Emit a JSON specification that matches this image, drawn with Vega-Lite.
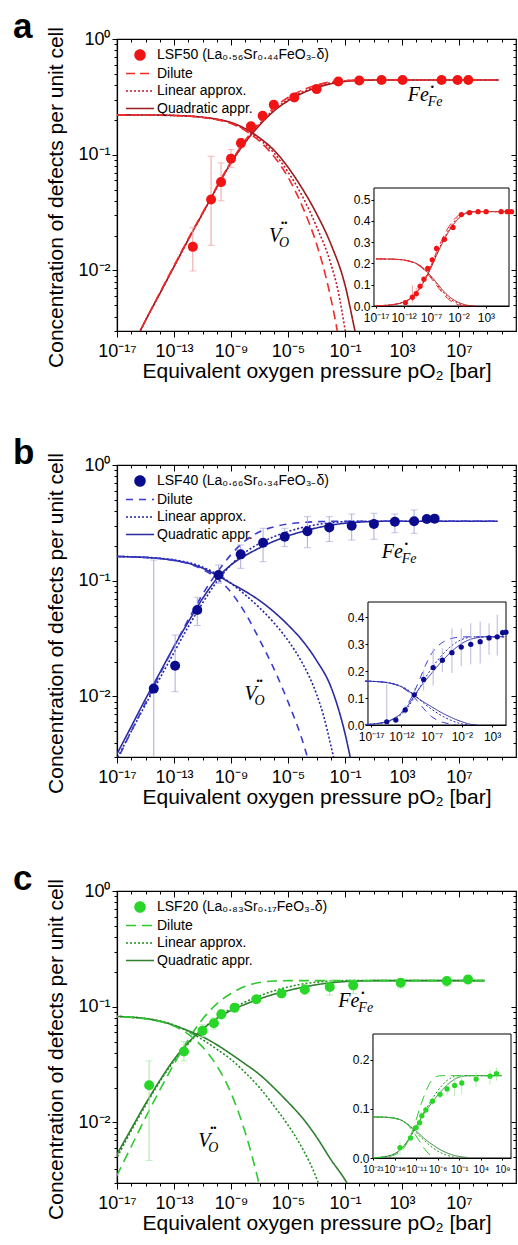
{
"$schema":"https://vega.github.io/schema/vega-lite/v6.json",
"padding":{"left":12,"top":8,"right":0,"bottom":0},
"config":{"font":"Liberation Sans","view":{"stroke":"black","strokeWidth":1.2},"axis":{"domainColor":"black","tickColor":"black","labelColor":"black","titleColor":"black","domainWidth":1.2,"tickWidth":1,"labelFont":"Liberation Sans","titleFont":"Liberation Sans"},"title":{"color":"black"}},
"datasets":{
"ca":[
{"p":1e-17,"c":0.0012,"sp":"Fe","m":"Q"},{"p":1e-16,"c":0.0021,"sp":"Fe","m":"Q"},{"p":1e-15,"c":0.0037,"sp":"Fe","m":"Q"},{"p":1e-14,"c":0.0063,"sp":"Fe","m":"Q"},{"p":1e-13,"c":0.0108,"sp":"Fe","m":"Q"},{"p":1e-12,"c":0.0185,"sp":"Fe","m":"Q"},{"p":1e-11,"c":0.031,"sp":"Fe","m":"Q"},{"p":1e-10,"c":0.052,"sp":"Fe","m":"Q"},{"p":1e-9,"c":0.085,"sp":"Fe","m":"Q"},{"p":1e-8,"c":0.128,"sp":"Fe","m":"Q"},{"p":1e-7,"c":0.18,"sp":"Fe","m":"Q"},{"p":1e-6,"c":0.238,"sp":"Fe","m":"Q"},{"p":1e-5,"c":0.292,"sp":"Fe","m":"Q"},{"p":1e-4,"c":0.34,"sp":"Fe","m":"Q"},{"p":1e-3,"c":0.38,"sp":"Fe","m":"Q"},{"p":1e-2,"c":0.41,"sp":"Fe","m":"Q"},{"p":1e-1,"c":0.43,"sp":"Fe","m":"Q"},{"p":1,"c":0.438,"sp":"Fe","m":"Q"},{"p":10,"c":0.442,"sp":"Fe","m":"Q"},{"p":100,"c":0.443,"sp":"Fe","m":"Q"},{"p":1e4,"c":0.443,"sp":"Fe","m":"Q"},{"p":1e6,"c":0.443,"sp":"Fe","m":"Q"},{"p":1e7,"c":0.443,"sp":"Fe","m":"Q"},{"p":1e8,"c":0.443,"sp":"Fe","m":"Q"},{"p":6.3e9,"c":0.443,"sp":"Fe","m":"Q"},
{"p":1e-17,"c":0.0012,"sp":"Fe","m":"L"},{"p":1e-16,"c":0.0021,"sp":"Fe","m":"L"},{"p":1e-15,"c":0.0037,"sp":"Fe","m":"L"},{"p":1e-14,"c":0.0063,"sp":"Fe","m":"L"},{"p":1e-13,"c":0.0108,"sp":"Fe","m":"L"},{"p":1e-12,"c":0.0184,"sp":"Fe","m":"L"},{"p":1e-11,"c":0.031,"sp":"Fe","m":"L"},{"p":1e-10,"c":0.052,"sp":"Fe","m":"L"},{"p":1e-9,"c":0.086,"sp":"Fe","m":"L"},{"p":1e-8,"c":0.13,"sp":"Fe","m":"L"},{"p":1e-7,"c":0.184,"sp":"Fe","m":"L"},{"p":1e-6,"c":0.244,"sp":"Fe","m":"L"},{"p":1e-5,"c":0.298,"sp":"Fe","m":"L"},{"p":1e-4,"c":0.348,"sp":"Fe","m":"L"},{"p":1e-3,"c":0.388,"sp":"Fe","m":"L"},{"p":1e-2,"c":0.418,"sp":"Fe","m":"L"},{"p":1e-1,"c":0.434,"sp":"Fe","m":"L"},{"p":1,"c":0.441,"sp":"Fe","m":"L"},{"p":10,"c":0.443,"sp":"Fe","m":"L"},{"p":100,"c":0.443,"sp":"Fe","m":"L"},{"p":1e4,"c":0.443,"sp":"Fe","m":"L"},{"p":1e6,"c":0.443,"sp":"Fe","m":"L"},{"p":1e7,"c":0.443,"sp":"Fe","m":"L"},{"p":1e8,"c":0.443,"sp":"Fe","m":"L"},{"p":6.3e9,"c":0.443,"sp":"Fe","m":"L"},
{"p":1e-17,"c":0.0012,"sp":"Fe","m":"D"},{"p":1e-16,"c":0.0021,"sp":"Fe","m":"D"},{"p":1e-15,"c":0.0037,"sp":"Fe","m":"D"},{"p":1e-14,"c":0.0064,"sp":"Fe","m":"D"},{"p":1e-13,"c":0.011,"sp":"Fe","m":"D"},{"p":1e-12,"c":0.0188,"sp":"Fe","m":"D"},{"p":1e-11,"c":0.0315,"sp":"Fe","m":"D"},{"p":1e-10,"c":0.053,"sp":"Fe","m":"D"},{"p":1e-9,"c":0.087,"sp":"Fe","m":"D"},{"p":1e-8,"c":0.133,"sp":"Fe","m":"D"},{"p":1e-7,"c":0.19,"sp":"Fe","m":"D"},{"p":1e-6,"c":0.254,"sp":"Fe","m":"D"},{"p":1e-5,"c":0.312,"sp":"Fe","m":"D"},{"p":1e-4,"c":0.362,"sp":"Fe","m":"D"},{"p":1e-3,"c":0.4,"sp":"Fe","m":"D"},{"p":1e-2,"c":0.426,"sp":"Fe","m":"D"},{"p":1e-1,"c":0.438,"sp":"Fe","m":"D"},{"p":1,"c":0.442,"sp":"Fe","m":"D"},{"p":10,"c":0.443,"sp":"Fe","m":"D"},{"p":100,"c":0.443,"sp":"Fe","m":"D"},{"p":1e4,"c":0.443,"sp":"Fe","m":"D"},{"p":1e6,"c":0.443,"sp":"Fe","m":"D"},{"p":1e7,"c":0.443,"sp":"Fe","m":"D"},{"p":1e8,"c":0.443,"sp":"Fe","m":"D"},{"p":6.3e9,"c":0.443,"sp":"Fe","m":"D"},
{"p":1e-17,"c":0.221,"sp":"VO","m":"Q"},{"p":1e-16,"c":0.2208,"sp":"VO","m":"Q"},{"p":1e-15,"c":0.2205,"sp":"VO","m":"Q"},{"p":1e-14,"c":0.22,"sp":"VO","m":"Q"},{"p":1e-13,"c":0.2185,"sp":"VO","m":"Q"},{"p":1e-12,"c":0.216,"sp":"VO","m":"Q"},{"p":1e-11,"c":0.211,"sp":"VO","m":"Q"},{"p":1e-10,"c":0.203,"sp":"VO","m":"Q"},{"p":1e-9,"c":0.19,"sp":"VO","m":"Q"},{"p":1e-8,"c":0.168,"sp":"VO","m":"Q"},{"p":1e-7,"c":0.14,"sp":"VO","m":"Q"},{"p":1e-6,"c":0.11,"sp":"VO","m":"Q"},{"p":1e-5,"c":0.078,"sp":"VO","m":"Q"},{"p":1e-4,"c":0.051,"sp":"VO","m":"Q"},{"p":1e-3,"c":0.031,"sp":"VO","m":"Q"},{"p":1e-2,"c":0.017,"sp":"VO","m":"Q"},{"p":1e-1,"c":0.0075,"sp":"VO","m":"Q"},{"p":0.5,"c":0.003,"sp":"VO","m":"Q"},{"p":1.58,"c":0.0015,"sp":"VO","m":"Q"},{"p":10,"c":0.0005,"sp":"VO","m":"Q"},
{"p":1e-17,"c":0.221,"sp":"VO","m":"L"},{"p":1e-16,"c":0.2208,"sp":"VO","m":"L"},{"p":1e-15,"c":0.2205,"sp":"VO","m":"L"},{"p":1e-14,"c":0.22,"sp":"VO","m":"L"},{"p":1e-13,"c":0.2185,"sp":"VO","m":"L"},{"p":1e-12,"c":0.216,"sp":"VO","m":"L"},{"p":1e-11,"c":0.2105,"sp":"VO","m":"L"},{"p":1e-10,"c":0.202,"sp":"VO","m":"L"},{"p":1e-9,"c":0.188,"sp":"VO","m":"L"},{"p":1e-8,"c":0.165,"sp":"VO","m":"L"},{"p":1e-7,"c":0.136,"sp":"VO","m":"L"},{"p":1e-6,"c":0.104,"sp":"VO","m":"L"},{"p":1e-5,"c":0.071,"sp":"VO","m":"L"},{"p":1e-4,"c":0.044,"sp":"VO","m":"L"},{"p":1e-3,"c":0.024,"sp":"VO","m":"L"},{"p":1e-2,"c":0.0115,"sp":"VO","m":"L"},{"p":0.0316,"c":0.0068,"sp":"VO","m":"L"},{"p":0.1,"c":0.0031,"sp":"VO","m":"L"},{"p":0.251,"c":0.0015,"sp":"VO","m":"L"},{"p":1,"c":0.0005,"sp":"VO","m":"L"},
{"p":1e-17,"c":0.221,"sp":"VO","m":"D"},{"p":1e-16,"c":0.2208,"sp":"VO","m":"D"},{"p":1e-15,"c":0.2205,"sp":"VO","m":"D"},{"p":1e-14,"c":0.2198,"sp":"VO","m":"D"},{"p":1e-13,"c":0.218,"sp":"VO","m":"D"},{"p":1e-12,"c":0.2155,"sp":"VO","m":"D"},{"p":1e-11,"c":0.21,"sp":"VO","m":"D"},{"p":1e-10,"c":0.201,"sp":"VO","m":"D"},{"p":1e-9,"c":0.186,"sp":"VO","m":"D"},{"p":1e-8,"c":0.162,"sp":"VO","m":"D"},{"p":1e-7,"c":0.131,"sp":"VO","m":"D"},{"p":1e-6,"c":0.097,"sp":"VO","m":"D"},{"p":1e-5,"c":0.064,"sp":"VO","m":"D"},{"p":1e-4,"c":0.036,"sp":"VO","m":"D"},{"p":1e-3,"c":0.017,"sp":"VO","m":"D"},{"p":0.00316,"c":0.0105,"sp":"VO","m":"D"},{"p":1e-2,"c":0.0058,"sp":"VO","m":"D"},{"p":0.0316,"c":0.0028,"sp":"VO","m":"D"},{"p":0.063,"c":0.0016,"sp":"VO","m":"D"},{"p":0.158,"c":0.0007,"sp":"VO","m":"D"}
],
"pa":[
{"p":2.1e-12,"c":0.016,"lo":0.0099,"hi":0.0234,"m":"P"},{"p":4e-11,"c":0.041,"lo":0.0165,"hi":0.097,"m":"P"},{"p":2e-10,"c":0.058,"lo":0.04,"hi":0.085,"m":"P"},{"p":1e-9,"c":0.0925,"lo":0.078,"hi":0.111,"m":"P"},{"p":5e-9,"c":0.126,"lo":0.115,"hi":0.138,"m":"P"},{"p":2.5e-8,"c":0.176,"lo":0.165,"hi":0.188,"m":"P"},{"p":1.66e-7,"c":0.217,"lo":0.205,"hi":0.23,"m":"P"},{"p":1e-6,"c":0.27,"lo":0.255,"hi":0.285,"m":"P"},{"p":2.75e-5,"c":0.313,"lo":0.3,"hi":0.326,"m":"P"},{"p":1.02e-3,"c":0.369,"lo":0.355,"hi":0.383,"m":"P"},{"p":0.034,"c":0.429,"lo":0.418,"hi":0.44,"m":"P"},{"p":1,"c":0.438,"lo":0.43,"hi":0.446,"m":"P"},{"p":37,"c":0.443,"lo":0.435,"hi":0.451,"m":"P"},{"p":1100,"c":0.443,"lo":0.435,"hi":0.451,"m":"P"},{"p":6e5,"c":0.443,"lo":0.435,"hi":0.451,"m":"P"},{"p":7.9e6,"c":0.443,"lo":0.435,"hi":0.451,"m":"P"},{"p":4.5e7,"c":0.443,"lo":0.435,"hi":0.451,"m":"P"}
],
"cb":[
{"p":1e-18,"c":0.0019,"sp":"Fe","m":"Q"},{"p":1e-17,"c":0.0032,"sp":"Fe","m":"Q"},{"p":1e-16,"c":0.0055,"sp":"Fe","m":"Q"},{"p":1e-15,"c":0.0095,"sp":"Fe","m":"Q"},{"p":1e-14,"c":0.016,"sp":"Fe","m":"Q"},{"p":1e-13,"c":0.027,"sp":"Fe","m":"Q"},{"p":1e-12,"c":0.044,"sp":"Fe","m":"Q"},{"p":1e-11,"c":0.07,"sp":"Fe","m":"Q"},{"p":1e-10,"c":0.104,"sp":"Fe","m":"Q"},{"p":1e-9,"c":0.137,"sp":"Fe","m":"Q"},{"p":1e-8,"c":0.165,"sp":"Fe","m":"Q"},{"p":1e-7,"c":0.192,"sp":"Fe","m":"Q"},{"p":1e-6,"c":0.219,"sp":"Fe","m":"Q"},{"p":1e-5,"c":0.244,"sp":"Fe","m":"Q"},{"p":1e-4,"c":0.266,"sp":"Fe","m":"Q"},{"p":1e-3,"c":0.286,"sp":"Fe","m":"Q"},{"p":1e-2,"c":0.302,"sp":"Fe","m":"Q"},{"p":1e-1,"c":0.314,"sp":"Fe","m":"Q"},{"p":1,"c":0.321,"sp":"Fe","m":"Q"},{"p":10,"c":0.325,"sp":"Fe","m":"Q"},{"p":100,"c":0.327,"sp":"Fe","m":"Q"},{"p":1e3,"c":0.327,"sp":"Fe","m":"Q"},{"p":1e4,"c":0.327,"sp":"Fe","m":"Q"},{"p":1e5,"c":0.327,"sp":"Fe","m":"Q"},{"p":1e7,"c":0.327,"sp":"Fe","m":"Q"},{"p":5e9,"c":0.327,"sp":"Fe","m":"Q"},
{"p":1e-18,"c":0.0017,"sp":"Fe","m":"L"},{"p":1e-17,"c":0.0029,"sp":"Fe","m":"L"},{"p":1e-16,"c":0.005,"sp":"Fe","m":"L"},{"p":1e-15,"c":0.0085,"sp":"Fe","m":"L"},{"p":1e-14,"c":0.0143,"sp":"Fe","m":"L"},{"p":1e-13,"c":0.024,"sp":"Fe","m":"L"},{"p":1e-12,"c":0.04,"sp":"Fe","m":"L"},{"p":1e-11,"c":0.064,"sp":"Fe","m":"L"},{"p":1e-10,"c":0.098,"sp":"Fe","m":"L"},{"p":1e-9,"c":0.137,"sp":"Fe","m":"L"},{"p":1e-8,"c":0.176,"sp":"Fe","m":"L"},{"p":1e-7,"c":0.21,"sp":"Fe","m":"L"},{"p":1e-6,"c":0.24,"sp":"Fe","m":"L"},{"p":1e-5,"c":0.266,"sp":"Fe","m":"L"},{"p":1e-4,"c":0.288,"sp":"Fe","m":"L"},{"p":1e-3,"c":0.305,"sp":"Fe","m":"L"},{"p":1e-2,"c":0.317,"sp":"Fe","m":"L"},{"p":1e-1,"c":0.324,"sp":"Fe","m":"L"},{"p":1,"c":0.327,"sp":"Fe","m":"L"},{"p":10,"c":0.327,"sp":"Fe","m":"L"},{"p":100,"c":0.327,"sp":"Fe","m":"L"},{"p":1e3,"c":0.327,"sp":"Fe","m":"L"},{"p":1e4,"c":0.327,"sp":"Fe","m":"L"},{"p":1e5,"c":0.327,"sp":"Fe","m":"L"},{"p":1e7,"c":0.327,"sp":"Fe","m":"L"},{"p":5e9,"c":0.327,"sp":"Fe","m":"L"},
{"p":1e-18,"c":0.0016,"sp":"Fe","m":"D"},{"p":1e-17,"c":0.0028,"sp":"Fe","m":"D"},{"p":1e-16,"c":0.005,"sp":"Fe","m":"D"},{"p":1e-15,"c":0.0088,"sp":"Fe","m":"D"},{"p":1e-14,"c":0.0155,"sp":"Fe","m":"D"},{"p":1e-13,"c":0.027,"sp":"Fe","m":"D"},{"p":1e-12,"c":0.046,"sp":"Fe","m":"D"},{"p":1e-11,"c":0.076,"sp":"Fe","m":"D"},{"p":1e-10,"c":0.117,"sp":"Fe","m":"D"},{"p":1e-9,"c":0.168,"sp":"Fe","m":"D"},{"p":1e-8,"c":0.222,"sp":"Fe","m":"D"},{"p":1e-7,"c":0.265,"sp":"Fe","m":"D"},{"p":1e-6,"c":0.292,"sp":"Fe","m":"D"},{"p":1e-5,"c":0.309,"sp":"Fe","m":"D"},{"p":1e-4,"c":0.319,"sp":"Fe","m":"D"},{"p":1e-3,"c":0.324,"sp":"Fe","m":"D"},{"p":1e-2,"c":0.326,"sp":"Fe","m":"D"},{"p":1e-1,"c":0.327,"sp":"Fe","m":"D"},{"p":1,"c":0.327,"sp":"Fe","m":"D"},{"p":100,"c":0.327,"sp":"Fe","m":"D"},{"p":1e4,"c":0.327,"sp":"Fe","m":"D"},{"p":1e5,"c":0.327,"sp":"Fe","m":"D"},{"p":1e7,"c":0.327,"sp":"Fe","m":"D"},{"p":5e9,"c":0.327,"sp":"Fe","m":"D"},
{"p":1e-18,"c":0.1626,"sp":"VO","m":"Q"},{"p":1e-17,"c":0.1619,"sp":"VO","m":"Q"},{"p":1e-16,"c":0.1608,"sp":"VO","m":"Q"},{"p":1e-15,"c":0.1588,"sp":"VO","m":"Q"},{"p":1e-14,"c":0.1555,"sp":"VO","m":"Q"},{"p":1e-13,"c":0.15,"sp":"VO","m":"Q"},{"p":1e-12,"c":0.1415,"sp":"VO","m":"Q"},{"p":1e-11,"c":0.1285,"sp":"VO","m":"Q"},{"p":1e-10,"c":0.1115,"sp":"VO","m":"Q"},{"p":1e-9,"c":0.095,"sp":"VO","m":"Q"},{"p":1e-8,"c":0.081,"sp":"VO","m":"Q"},{"p":1e-7,"c":0.0675,"sp":"VO","m":"Q"},{"p":1e-6,"c":0.054,"sp":"VO","m":"Q"},{"p":1e-5,"c":0.0415,"sp":"VO","m":"Q"},{"p":1e-4,"c":0.0305,"sp":"VO","m":"Q"},{"p":1e-3,"c":0.0205,"sp":"VO","m":"Q"},{"p":1e-2,"c":0.0122,"sp":"VO","m":"Q"},{"p":1e-1,"c":0.0048,"sp":"VO","m":"Q"},{"p":0.316,"c":0.0025,"sp":"VO","m":"Q"},{"p":1,"c":0.0013,"sp":"VO","m":"Q"},{"p":3.16,"c":0.0007,"sp":"VO","m":"Q"},
{"p":1e-18,"c":0.1627,"sp":"VO","m":"L"},{"p":1e-17,"c":0.162,"sp":"VO","m":"L"},{"p":1e-16,"c":0.1611,"sp":"VO","m":"L"},{"p":1e-15,"c":0.1593,"sp":"VO","m":"L"},{"p":1e-14,"c":0.1564,"sp":"VO","m":"L"},{"p":1e-13,"c":0.1515,"sp":"VO","m":"L"},{"p":1e-12,"c":0.1435,"sp":"VO","m":"L"},{"p":1e-11,"c":0.1315,"sp":"VO","m":"L"},{"p":1e-10,"c":0.1145,"sp":"VO","m":"L"},{"p":1e-9,"c":0.095,"sp":"VO","m":"L"},{"p":1e-8,"c":0.0755,"sp":"VO","m":"L"},{"p":1e-7,"c":0.0585,"sp":"VO","m":"L"},{"p":1e-6,"c":0.0435,"sp":"VO","m":"L"},{"p":1e-5,"c":0.0305,"sp":"VO","m":"L"},{"p":1e-4,"c":0.0195,"sp":"VO","m":"L"},{"p":1e-3,"c":0.0105,"sp":"VO","m":"L"},{"p":0.00316,"c":0.0068,"sp":"VO","m":"L"},{"p":1e-2,"c":0.0038,"sp":"VO","m":"L"},{"p":0.0316,"c":0.002,"sp":"VO","m":"L"},{"p":0.1,"c":0.0009,"sp":"VO","m":"L"},
{"p":1e-18,"c":0.1627,"sp":"VO","m":"D"},{"p":1e-17,"c":0.1621,"sp":"VO","m":"D"},{"p":1e-16,"c":0.161,"sp":"VO","m":"D"},{"p":1e-15,"c":0.1591,"sp":"VO","m":"D"},{"p":1e-14,"c":0.1558,"sp":"VO","m":"D"},{"p":1e-13,"c":0.15,"sp":"VO","m":"D"},{"p":1e-12,"c":0.1405,"sp":"VO","m":"D"},{"p":1e-11,"c":0.1255,"sp":"VO","m":"D"},{"p":1e-10,"c":0.105,"sp":"VO","m":"D"},{"p":1e-9,"c":0.0795,"sp":"VO","m":"D"},{"p":1e-8,"c":0.0525,"sp":"VO","m":"D"},{"p":1e-7,"c":0.031,"sp":"VO","m":"D"},{"p":1e-6,"c":0.0175,"sp":"VO","m":"D"},{"p":1e-5,"c":0.009,"sp":"VO","m":"D"},{"p":1e-4,"c":0.0042,"sp":"VO","m":"D"},{"p":3.16e-4,"c":0.0026,"sp":"VO","m":"D"},{"p":1e-3,"c":0.0015,"sp":"VO","m":"D"}
],
"pb":[
{"p":3.8e-15,"c":0.0117,"lo":0.0001,"hi":0.151,"m":"P"},{"p":1.2e-13,"c":0.0184,"lo":0.011,"hi":0.034,"m":"P"},{"p":4.3e-12,"c":0.0558,"lo":0.041,"hi":0.072,"m":"P"},{"p":1.35e-10,"c":0.112,"lo":0.095,"hi":0.137,"m":"P"},{"p":4.8e-9,"c":0.169,"lo":0.128,"hi":0.204,"m":"P"},{"p":1.78e-7,"c":0.213,"lo":0.146,"hi":0.284,"m":"P"},{"p":5.9e-6,"c":0.24,"lo":0.197,"hi":0.284,"m":"P"},{"p":2.3e-4,"c":0.268,"lo":0.193,"hi":0.358,"m":"P"},{"p":7.9e-3,"c":0.289,"lo":0.218,"hi":0.358,"m":"P"},{"p":0.295,"c":0.299,"lo":0.225,"hi":0.377,"m":"P"},{"p":10.7,"c":0.309,"lo":0.228,"hi":0.383,"m":"P"},{"p":316,"c":0.323,"lo":0.26,"hi":0.377,"m":"P"},{"p":7080,"c":0.327,"lo":0.257,"hi":0.409,"m":"P"},{"p":5.5e4,"c":0.342,"lo":0.33,"hi":0.355,"m":"P"},{"p":1.95e5,"c":0.344,"lo":0.332,"hi":0.357,"m":"P"}
],
"cc":[
{"p":1e-21,"c":0.0006,"sp":"Fe","m":"Q"},{"p":1e-20,"c":0.001,"sp":"Fe","m":"Q"},{"p":1e-19,"c":0.0018,"sp":"Fe","m":"Q"},{"p":1e-18,"c":0.0031,"sp":"Fe","m":"Q"},{"p":1e-17,"c":0.0053,"sp":"Fe","m":"Q"},{"p":1e-16,"c":0.0088,"sp":"Fe","m":"Q"},{"p":1e-15,"c":0.0145,"sp":"Fe","m":"Q"},{"p":1e-14,"c":0.023,"sp":"Fe","m":"Q"},{"p":1e-13,"c":0.035,"sp":"Fe","m":"Q"},{"p":1e-12,"c":0.049,"sp":"Fe","m":"Q"},{"p":1e-11,"c":0.064,"sp":"Fe","m":"Q"},{"p":1e-10,"c":0.079,"sp":"Fe","m":"Q"},{"p":1e-9,"c":0.093,"sp":"Fe","m":"Q"},{"p":1e-8,"c":0.105,"sp":"Fe","m":"Q"},{"p":1e-7,"c":0.117,"sp":"Fe","m":"Q"},{"p":1e-6,"c":0.128,"sp":"Fe","m":"Q"},{"p":1e-5,"c":0.138,"sp":"Fe","m":"Q"},{"p":1e-4,"c":0.147,"sp":"Fe","m":"Q"},{"p":1e-3,"c":0.155,"sp":"Fe","m":"Q"},{"p":1e-2,"c":0.161,"sp":"Fe","m":"Q"},{"p":1e-1,"c":0.165,"sp":"Fe","m":"Q"},{"p":1,"c":0.167,"sp":"Fe","m":"Q"},{"p":10,"c":0.168,"sp":"Fe","m":"Q"},{"p":100,"c":0.168,"sp":"Fe","m":"Q"},{"p":1e4,"c":0.168,"sp":"Fe","m":"Q"},{"p":1e6,"c":0.168,"sp":"Fe","m":"Q"},{"p":6.3e8,"c":0.168,"sp":"Fe","m":"Q"},
{"p":1e-21,"c":0.00057,"sp":"Fe","m":"L"},{"p":1e-20,"c":0.001,"sp":"Fe","m":"L"},{"p":1e-19,"c":0.0017,"sp":"Fe","m":"L"},{"p":1e-18,"c":0.003,"sp":"Fe","m":"L"},{"p":1e-17,"c":0.005,"sp":"Fe","m":"L"},{"p":1e-16,"c":0.0085,"sp":"Fe","m":"L"},{"p":1e-15,"c":0.014,"sp":"Fe","m":"L"},{"p":1e-14,"c":0.0225,"sp":"Fe","m":"L"},{"p":1e-13,"c":0.034,"sp":"Fe","m":"L"},{"p":1e-12,"c":0.048,"sp":"Fe","m":"L"},{"p":1e-11,"c":0.064,"sp":"Fe","m":"L"},{"p":1e-10,"c":0.08,"sp":"Fe","m":"L"},{"p":1e-9,"c":0.096,"sp":"Fe","m":"L"},{"p":1e-8,"c":0.11,"sp":"Fe","m":"L"},{"p":1e-7,"c":0.124,"sp":"Fe","m":"L"},{"p":1e-6,"c":0.137,"sp":"Fe","m":"L"},{"p":1e-5,"c":0.148,"sp":"Fe","m":"L"},{"p":1e-4,"c":0.157,"sp":"Fe","m":"L"},{"p":1e-3,"c":0.163,"sp":"Fe","m":"L"},{"p":1e-2,"c":0.167,"sp":"Fe","m":"L"},{"p":1e-1,"c":0.168,"sp":"Fe","m":"L"},{"p":1,"c":0.168,"sp":"Fe","m":"L"},{"p":100,"c":0.168,"sp":"Fe","m":"L"},{"p":1e4,"c":0.168,"sp":"Fe","m":"L"},{"p":1e6,"c":0.168,"sp":"Fe","m":"L"},{"p":6.3e8,"c":0.168,"sp":"Fe","m":"L"},
{"p":1e-21,"c":0.00035,"sp":"Fe","m":"D"},{"p":1e-20,"c":0.00062,"sp":"Fe","m":"D"},{"p":1e-19,"c":0.0011,"sp":"Fe","m":"D"},{"p":1e-18,"c":0.002,"sp":"Fe","m":"D"},{"p":1e-17,"c":0.0035,"sp":"Fe","m":"D"},{"p":1e-16,"c":0.0062,"sp":"Fe","m":"D"},{"p":1e-15,"c":0.011,"sp":"Fe","m":"D"},{"p":1e-14,"c":0.019,"sp":"Fe","m":"D"},{"p":1e-13,"c":0.032,"sp":"Fe","m":"D"},{"p":1e-12,"c":0.052,"sp":"Fe","m":"D"},{"p":1e-11,"c":0.078,"sp":"Fe","m":"D"},{"p":1e-10,"c":0.106,"sp":"Fe","m":"D"},{"p":1e-9,"c":0.13,"sp":"Fe","m":"D"},{"p":1e-8,"c":0.15,"sp":"Fe","m":"D"},{"p":1e-7,"c":0.162,"sp":"Fe","m":"D"},{"p":1e-6,"c":0.167,"sp":"Fe","m":"D"},{"p":1e-5,"c":0.168,"sp":"Fe","m":"D"},{"p":1e-4,"c":0.168,"sp":"Fe","m":"D"},{"p":1e-2,"c":0.168,"sp":"Fe","m":"D"},{"p":1,"c":0.168,"sp":"Fe","m":"D"},{"p":100,"c":0.168,"sp":"Fe","m":"D"},{"p":1e4,"c":0.168,"sp":"Fe","m":"D"},{"p":1e6,"c":0.168,"sp":"Fe","m":"D"},{"p":6.3e8,"c":0.168,"sp":"Fe","m":"D"},
{"p":1e-21,"c":0.0838,"sp":"VO","m":"Q"},{"p":1e-20,"c":0.0837,"sp":"VO","m":"Q"},{"p":1e-19,"c":0.0835,"sp":"VO","m":"Q"},{"p":1e-18,"c":0.0832,"sp":"VO","m":"Q"},{"p":1e-17,"c":0.0825,"sp":"VO","m":"Q"},{"p":1e-16,"c":0.0812,"sp":"VO","m":"Q"},{"p":1e-15,"c":0.079,"sp":"VO","m":"Q"},{"p":1e-14,"c":0.075,"sp":"VO","m":"Q"},{"p":1e-13,"c":0.069,"sp":"VO","m":"Q"},{"p":1e-12,"c":0.062,"sp":"VO","m":"Q"},{"p":1e-11,"c":0.055,"sp":"VO","m":"Q"},{"p":1e-10,"c":0.047,"sp":"VO","m":"Q"},{"p":1e-9,"c":0.039,"sp":"VO","m":"Q"},{"p":1e-8,"c":0.032,"sp":"VO","m":"Q"},{"p":1e-7,"c":0.026,"sp":"VO","m":"Q"},{"p":1e-6,"c":0.02,"sp":"VO","m":"Q"},{"p":1e-5,"c":0.015,"sp":"VO","m":"Q"},{"p":1e-4,"c":0.011,"sp":"VO","m":"Q"},{"p":1e-3,"c":0.0075,"sp":"VO","m":"Q"},{"p":1e-2,"c":0.0048,"sp":"VO","m":"Q"},{"p":1e-1,"c":0.0032,"sp":"VO","m":"Q"},{"p":0.316,"c":0.0025,"sp":"VO","m":"Q"},{"p":1,"c":0.0018,"sp":"VO","m":"Q"},{"p":10,"c":0.0009,"sp":"VO","m":"Q"},
{"p":1e-21,"c":0.0838,"sp":"VO","m":"L"},{"p":1e-20,"c":0.0837,"sp":"VO","m":"L"},{"p":1e-19,"c":0.0835,"sp":"VO","m":"L"},{"p":1e-18,"c":0.0832,"sp":"VO","m":"L"},{"p":1e-17,"c":0.0825,"sp":"VO","m":"L"},{"p":1e-16,"c":0.0813,"sp":"VO","m":"L"},{"p":1e-15,"c":0.0792,"sp":"VO","m":"L"},{"p":1e-14,"c":0.0755,"sp":"VO","m":"L"},{"p":1e-13,"c":0.0695,"sp":"VO","m":"L"},{"p":1e-12,"c":0.061,"sp":"VO","m":"L"},{"p":1e-11,"c":0.052,"sp":"VO","m":"L"},{"p":1e-10,"c":0.043,"sp":"VO","m":"L"},{"p":1e-9,"c":0.035,"sp":"VO","m":"L"},{"p":1e-8,"c":0.027,"sp":"VO","m":"L"},{"p":1e-7,"c":0.02,"sp":"VO","m":"L"},{"p":1e-6,"c":0.014,"sp":"VO","m":"L"},{"p":1e-5,"c":0.0095,"sp":"VO","m":"L"},{"p":1e-4,"c":0.006,"sp":"VO","m":"L"},{"p":1e-3,"c":0.0033,"sp":"VO","m":"L"},{"p":0.00316,"c":0.0022,"sp":"VO","m":"L"},{"p":1e-2,"c":0.0013,"sp":"VO","m":"L"},
{"p":1e-21,"c":0.0839,"sp":"VO","m":"D"},{"p":1e-20,"c":0.0838,"sp":"VO","m":"D"},{"p":1e-19,"c":0.0836,"sp":"VO","m":"D"},{"p":1e-18,"c":0.0832,"sp":"VO","m":"D"},{"p":1e-17,"c":0.0823,"sp":"VO","m":"D"},{"p":1e-16,"c":0.0809,"sp":"VO","m":"D"},{"p":1e-15,"c":0.0785,"sp":"VO","m":"D"},{"p":1e-14,"c":0.0745,"sp":"VO","m":"D"},{"p":1e-13,"c":0.068,"sp":"VO","m":"D"},{"p":1e-12,"c":0.058,"sp":"VO","m":"D"},{"p":1e-11,"c":0.045,"sp":"VO","m":"D"},{"p":1e-10,"c":0.031,"sp":"VO","m":"D"},{"p":1e-9,"c":0.018,"sp":"VO","m":"D"},{"p":3.16e-9,"c":0.0125,"sp":"VO","m":"D"},{"p":1e-8,"c":0.0082,"sp":"VO","m":"D"},{"p":3.16e-8,"c":0.005,"sp":"VO","m":"D"},{"p":1e-7,"c":0.0028,"sp":"VO","m":"D"},{"p":2.5e-7,"c":0.0015,"sp":"VO","m":"D"}
],
"pc":[
{"p":1.8e-15,"c":0.021,"lo":0.0047,"hi":0.034,"m":"P"},{"p":5e-13,"c":0.041,"lo":0.034,"hi":0.05,"m":"P"},{"p":1e-11,"c":0.062,"lo":0.055,"hi":0.07,"m":"P"},{"p":6.3e-11,"c":0.072,"lo":0.064,"hi":0.08,"m":"P"},{"p":2.1e-10,"c":0.086,"lo":0.078,"hi":0.094,"m":"P"},{"p":1.78e-9,"c":0.098,"lo":0.09,"hi":0.106,"m":"P"},{"p":6e-8,"c":0.116,"lo":0.108,"hi":0.124,"m":"P"},{"p":3.5e-6,"c":0.13,"lo":0.121,"hi":0.139,"m":"P"},{"p":1.5e-4,"c":0.141,"lo":0.128,"hi":0.154,"m":"P"},{"p":8.5e-3,"c":0.148,"lo":0.126,"hi":0.168,"m":"P"},{"p":0.38,"c":0.153,"lo":0.13,"hi":0.17,"m":"P"},{"p":813,"c":0.161,"lo":0.145,"hi":0.175,"m":"P"},{"p":1.4e6,"c":0.167,"lo":0.15,"hi":0.18,"m":"P"},{"p":4.3e7,"c":0.172,"lo":0.158,"hi":0.185,"m":"P"}
]
},
"vconcat":[
{
"width":399,"height":292,
"title":{"text":"a","anchor":"start","frame":"group","fontSize":35,"fontWeight":"bold","baseline":"alphabetic","dx":-104,"offset":-46},
"layer":[
{"layer":[
{"data":{"name":"ca"},"mark":{"type":"line","clip":true,"strokeWidth":1.6,"interpolate":"monotone"},
"encoding":{
"x":{"field":"p","type":"quantitative","scale":{"type":"log","domain":[1e-17,1e11],"nice":false},"axis":{"orient":"bottom","title":"Equivalent oxygen pressure pO₂ [bar]","titleFontSize":21,"titleFontWeight":"normal","titlePadding":0,"labelFontSize":18,"labelPadding":5,"labelFlush":false,"labelOverlap":false,"grid":false,"values":[1e-17,1e-16,1e-15,1e-14,1e-13,1e-12,1e-11,1e-10,1e-9,1e-8,1e-7,1e-6,1e-5,1e-4,1e-3,1e-2,0.1,1,10,100,1000,1e4,1e5,1e6,1e7,1e8,1e9,1e10],"labelExpr":"datum.value==1e-17?'10⁻¹⁷':datum.value==1e-13?'10⁻¹³':datum.value==1e-9?'10⁻⁹':datum.value==1e-5?'10⁻⁵':datum.value==0.1?'10⁻¹':datum.value==1000?'10³':datum.value==1e7?'10⁷':''","tickSize":{"condition":{"test":"datum.value==1e-17||datum.value==1e-13||datum.value==1e-9||datum.value==1e-5||datum.value==0.1||datum.value==1000||datum.value==1e7","value":6},"value":3}}},
"y":{"field":"c","type":"quantitative","scale":{"type":"log","domain":[0.003,1],"nice":false},"axis":{"orient":"left","title":"Concentration of defects per unit cell","titleFontSize":21,"titleFontWeight":"normal","titlePadding":11,"titleY":158,"labelFontSize":18,"labelPadding":2,"labelFlush":false,"labelOverlap":false,"grid":false,"values":[0.003,0.004,0.005,0.006,0.007,0.008,0.009,0.01,0.02,0.03,0.04,0.05,0.06,0.07,0.08,0.09,0.1,0.2,0.3,0.4,0.5,0.6,0.7,0.8,0.9,1],"labelExpr":"datum.value==1?'10⁰':datum.value==0.1?'10⁻¹':datum.value==0.01?'10⁻²':''","tickSize":{"condition":{"test":"datum.value==1||datum.value==0.1||datum.value==0.01","value":5},"value":3}}},
"color":{"field":"m","type":"nominal","scale":{"domain":["P","D","L","Q"],"range":["#f01414","#f22a2a","#c8142e","#9b1c1c"]},"legend":{"title":null,"orient":"none","legendX":16,"legendY":9,"padding":0,"labelFontSize":14,"labelColor":"black","symbolSize":100,"symbolStrokeWidth":1.5,"rowPadding":3.5,"labelOffset":10,"labelLimit":400,"labelExpr":"datum.label=='P'?'LSF50 (La₀.₅₆Sr₀.₄₄FeO₃₋δ)':datum.label=='D'?'Dilute':datum.label=='L'?'Linear approx.':'Quadratic appr.'"}},
"strokeDash":{"field":"m","type":"nominal","scale":{"domain":["P","D","L","Q"],"range":[[1,0],[9,5],[2,2],[1,0]]},"legend":{"title":null,"orient":"none","legendX":16,"legendY":9,"padding":0,"labelFontSize":14,"labelColor":"black","symbolSize":100,"symbolStrokeWidth":1.5,"rowPadding":3.5,"labelOffset":10,"labelLimit":400,"labelExpr":"datum.label=='P'?'LSF50 (La₀.₅₆Sr₀.₄₄FeO₃₋δ)':datum.label=='D'?'Dilute':datum.label=='L'?'Linear approx.':'Quadratic appr.'"}},
"detail":{"field":"sp","type":"nominal"}}},
{"data":{"name":"pa"},"mark":{"type":"rule","clip":true,"color":"#f2a0a0","strokeWidth":1},"encoding":{"x":{"field":"p","type":"quantitative"},"y":{"field":"lo","type":"quantitative"},"y2":{"field":"hi"}}},
{"data":{"name":"pa"},"mark":{"type":"tick","orient":"horizontal","size":7,"thickness":1,"color":"#f2a0a0","clip":true},"encoding":{"x":{"field":"p","type":"quantitative"},"y":{"field":"lo","type":"quantitative"}}},
{"data":{"name":"pa"},"mark":{"type":"tick","orient":"horizontal","size":7,"thickness":1,"color":"#f2a0a0","clip":true},"encoding":{"x":{"field":"p","type":"quantitative"},"y":{"field":"hi","type":"quantitative"}}},
{"data":{"name":"pa"},"mark":{"type":"point","filled":true,"opacity":1,"size":100},"encoding":{"x":{"field":"p","type":"quantitative"},"y":{"field":"c","type":"quantitative"},"color":{"field":"m","type":"nominal"},"shape":{"field":"m","type":"nominal","scale":{"domain":["P","D","L","Q"],"range":["circle","M-2.8,0L2.8,0","M-2.8,0L2.8,0","M-2.8,0L2.8,0"]},"legend":{"title":null,"orient":"none","legendX":16,"legendY":9,"padding":0,"labelFontSize":14,"labelColor":"black","symbolSize":100,"symbolStrokeWidth":1.5,"rowPadding":3.5,"labelOffset":10,"labelLimit":400,"labelExpr":"datum.label=='P'?'LSF50 (La₀.₅₆Sr₀.₄₄FeO₃₋δ)':datum.label=='D'?'Dilute':datum.label=='L'?'Linear approx.':'Quadratic appr.'"}}}},
{"data":{"values":[{}]},"mark":{"type":"text","text":"Fe","font":"Liberation Serif","fontStyle":"italic","fontSize":20,"align":"left","baseline":"alphabetic","color":"black"},"encoding":{"x":{"datum":2500},"y":{"datum":0.292}}},
{"data":{"values":[{}]},"mark":{"type":"text","text":"Fe","font":"Liberation Serif","fontStyle":"italic","fontSize":14,"align":"left","baseline":"alphabetic","dx":20,"dy":5,"color":"black"},"encoding":{"x":{"datum":2500},"y":{"datum":0.292}}},
{"data":{"values":[{}]},"mark":{"type":"text","text":"•","fontSize":9,"align":"left","baseline":"alphabetic","dx":23,"dy":-11,"color":"black"},"encoding":{"x":{"datum":2500},"y":{"datum":0.292}}},
{"data":{"values":[{}]},"mark":{"type":"text","text":"V","font":"Liberation Serif","fontStyle":"italic","fontSize":20,"align":"left","baseline":"alphabetic","color":"black"},"encoding":{"x":{"datum":4.7e-7},"y":{"datum":0.0175}}},
{"data":{"values":[{}]},"mark":{"type":"text","text":"O","font":"Liberation Serif","fontStyle":"italic","fontSize":14,"align":"left","baseline":"alphabetic","dx":10,"dy":5,"color":"black"},"encoding":{"x":{"datum":4.7e-7},"y":{"datum":0.0175}}},
{"data":{"values":[{}]},"mark":{"type":"text","text":"••","fontSize":9,"align":"left","baseline":"alphabetic","dx":12,"dy":-16,"color":"black"},"encoding":{"x":{"datum":4.7e-7},"y":{"datum":0.0175}}}
]},
{"data":{"name":"pa"},"mark":{"type":"point","opacity":0},"encoding":{
"x":{"field":"p","type":"quantitative","scale":{"type":"log","domain":[1e-17,1e11],"nice":false},"axis":{"orient":"top","labels":false,"title":null,"domain":false,"grid":false,"values":[1e-17,1e-16,1e-15,1e-14,1e-13,1e-12,1e-11,1e-10,1e-9,1e-8,1e-7,1e-6,1e-5,1e-4,1e-3,1e-2,0.1,1,10,100,1000,1e4,1e5,1e6,1e7,1e8,1e9,1e10],"tickSize":{"condition":{"test":"datum.value==1e-17||datum.value==1e-13||datum.value==1e-9||datum.value==1e-5||datum.value==0.1||datum.value==1000||datum.value==1e7","value":-6},"value":-3}}},
"y":{"field":"c","type":"quantitative","scale":{"type":"log","domain":[0.003,1],"nice":false},"axis":{"orient":"right","labels":false,"title":null,"domain":false,"grid":false,"values":[0.003,0.004,0.005,0.006,0.007,0.008,0.009,0.01,0.02,0.03,0.04,0.05,0.06,0.07,0.08,0.09,0.1,0.2,0.3,0.4,0.5,0.6,0.7,0.8,0.9,1],"tickSize":{"condition":{"test":"datum.value==1||datum.value==0.1||datum.value==0.01","value":-5},"value":-3}}}}},
{"layer":[
{"data":{"values":[{}]},"mark":{"type":"rect","fill":"white","stroke":"black","strokeWidth":1},
"encoding":{"x":{"datum":4e-18,"type":"quantitative","scale":{"type":"log","domain":[4e-18,1.6e7],"range":[257,392],"nice":false},"axis":{"orient":"bottom","offset":-25,"title":null,"labelFontSize":12,"labelPadding":4,"tickSize":2,"labelFlush":false,"labelOverlap":false,"grid":false,"values":[1e-17,1e-12,1e-7,0.01,1000,1e8],"labelExpr":"datum.value==1e-17?'10⁻¹⁷':datum.value==1e-12?'10⁻¹²':datum.value==1e-7?'10⁻⁷':datum.value==0.01?'10⁻²':datum.value==1000?'10³':'10⁸'"}},
"x2":{"datum":1.6e7},
"y":{"datum":0,"type":"quantitative","scale":{"domain":[0,0.554],"range":[267,149],"nice":false,"zero":false},"axis":{"orient":"left","offset":-257,"title":null,"labelFontSize":12,"labelPadding":1,"tickSize":3,"grid":false,"values":[0,0.1,0.2,0.3,0.4,0.5],"format":".1f","labelFlush":false}},
"y2":{"datum":0.554}}},
{"data":{"name":"ca"},"transform":[{"filter":"datum.p <= 1.6e7"}],"mark":{"type":"line","strokeWidth":1,"interpolate":"monotone"},"encoding":{"x":{"field":"p","type":"quantitative"},"y":{"field":"c","type":"quantitative"},"color":{"field":"m","type":"nominal"},"strokeDash":{"field":"m","type":"nominal"},"detail":{"field":"sp","type":"nominal"}}},
{"data":{"name":"pa"},"mark":{"type":"rule","color":"#f2a0a0","strokeWidth":1},"encoding":{"x":{"field":"p","type":"quantitative"},"y":{"field":"lo","type":"quantitative"},"y2":{"field":"hi"}}},
{"data":{"name":"pa"},"mark":{"type":"point","filled":true,"opacity":1,"size":28},"encoding":{"x":{"field":"p","type":"quantitative"},"y":{"field":"c","type":"quantitative"},"color":{"field":"m","type":"nominal"}}}
]}
],
"resolve":{"scale":{"x":"independent","y":"independent"}}
},
{
"width":399,"height":292,
"title":{"text":"b","anchor":"start","frame":"group","fontSize":35,"fontWeight":"bold","baseline":"alphabetic","dx":-104,"offset":-46},
"layer":[
{"layer":[
{"data":{"name":"cb"},"mark":{"type":"line","clip":true,"strokeWidth":1.6,"interpolate":"monotone"},
"encoding":{
"x":{"field":"p","type":"quantitative","scale":{"type":"log","domain":[1e-17,1e11],"nice":false},"axis":{"orient":"bottom","title":"Equivalent oxygen pressure pO₂ [bar]","titleFontSize":21,"titleFontWeight":"normal","titlePadding":0,"labelFontSize":18,"labelPadding":5,"labelFlush":false,"labelOverlap":false,"grid":false,"values":[1e-17,1e-16,1e-15,1e-14,1e-13,1e-12,1e-11,1e-10,1e-9,1e-8,1e-7,1e-6,1e-5,1e-4,1e-3,1e-2,0.1,1,10,100,1000,1e4,1e5,1e6,1e7,1e8,1e9,1e10],"labelExpr":"datum.value==1e-17?'10⁻¹⁷':datum.value==1e-13?'10⁻¹³':datum.value==1e-9?'10⁻⁹':datum.value==1e-5?'10⁻⁵':datum.value==0.1?'10⁻¹':datum.value==1000?'10³':datum.value==1e7?'10⁷':''","tickSize":{"condition":{"test":"datum.value==1e-17||datum.value==1e-13||datum.value==1e-9||datum.value==1e-5||datum.value==0.1||datum.value==1000||datum.value==1e7","value":6},"value":3}}},
"y":{"field":"c","type":"quantitative","scale":{"type":"log","domain":[0.003,1],"nice":false},"axis":{"orient":"left","title":"Concentration of defects per unit cell","titleFontSize":21,"titleFontWeight":"normal","titlePadding":11,"titleY":158,"labelFontSize":18,"labelPadding":2,"labelFlush":false,"labelOverlap":false,"grid":false,"values":[0.003,0.004,0.005,0.006,0.007,0.008,0.009,0.01,0.02,0.03,0.04,0.05,0.06,0.07,0.08,0.09,0.1,0.2,0.3,0.4,0.5,0.6,0.7,0.8,0.9,1],"labelExpr":"datum.value==1?'10⁰':datum.value==0.1?'10⁻¹':datum.value==0.01?'10⁻²':''","tickSize":{"condition":{"test":"datum.value==1||datum.value==0.1||datum.value==0.01","value":5},"value":3}}},
"color":{"field":"m","type":"nominal","scale":{"domain":["P","D","L","Q"],"range":["#0b0b8f","#3a3ad0","#2424a8","#2b2ba0"]},"legend":{"title":null,"orient":"none","legendX":16,"legendY":9,"padding":0,"labelFontSize":14,"labelColor":"black","symbolSize":100,"symbolStrokeWidth":1.5,"rowPadding":3.5,"labelOffset":10,"labelLimit":400,"labelExpr":"datum.label=='P'?'LSF40 (La₀.₆₆Sr₀.₃₄FeO₃₋δ)':datum.label=='D'?'Dilute':datum.label=='L'?'Linear approx.':'Quadratic appr.'"}},
"strokeDash":{"field":"m","type":"nominal","scale":{"domain":["P","D","L","Q"],"range":[[1,0],[7,6],[2,2],[1,0]]},"legend":{"title":null,"orient":"none","legendX":16,"legendY":9,"padding":0,"labelFontSize":14,"labelColor":"black","symbolSize":100,"symbolStrokeWidth":1.5,"rowPadding":3.5,"labelOffset":10,"labelLimit":400,"labelExpr":"datum.label=='P'?'LSF40 (La₀.₆₆Sr₀.₃₄FeO₃₋δ)':datum.label=='D'?'Dilute':datum.label=='L'?'Linear approx.':'Quadratic appr.'"}},
"detail":{"field":"sp","type":"nominal"}}},
{"data":{"name":"pb"},"mark":{"type":"rule","clip":true,"color":"#a9a9dc","strokeWidth":1},"encoding":{"x":{"field":"p","type":"quantitative"},"y":{"field":"lo","type":"quantitative"},"y2":{"field":"hi"}}},
{"data":{"name":"pb"},"mark":{"type":"tick","orient":"horizontal","size":7,"thickness":1,"color":"#a9a9dc","clip":true},"encoding":{"x":{"field":"p","type":"quantitative"},"y":{"field":"lo","type":"quantitative"}}},
{"data":{"name":"pb"},"mark":{"type":"tick","orient":"horizontal","size":7,"thickness":1,"color":"#a9a9dc","clip":true},"encoding":{"x":{"field":"p","type":"quantitative"},"y":{"field":"hi","type":"quantitative"}}},
{"data":{"name":"pb"},"mark":{"type":"point","filled":true,"opacity":1,"size":100},"encoding":{"x":{"field":"p","type":"quantitative"},"y":{"field":"c","type":"quantitative"},"color":{"field":"m","type":"nominal"},"shape":{"field":"m","type":"nominal","scale":{"domain":["P","D","L","Q"],"range":["circle","M-2.8,0L2.8,0","M-2.8,0L2.8,0","M-2.8,0L2.8,0"]},"legend":{"title":null,"orient":"none","legendX":16,"legendY":9,"padding":0,"labelFontSize":14,"labelColor":"black","symbolSize":100,"symbolStrokeWidth":1.5,"rowPadding":3.5,"labelOffset":10,"labelLimit":400,"labelExpr":"datum.label=='P'?'LSF40 (La₀.₆₆Sr₀.₃₄FeO₃₋δ)':datum.label=='D'?'Dilute':datum.label=='L'?'Linear approx.':'Quadratic appr.'"}}}},
{"data":{"values":[{}]},"mark":{"type":"text","text":"Fe","font":"Liberation Serif","fontStyle":"italic","fontSize":20,"align":"left","baseline":"alphabetic","color":"black"},"encoding":{"x":{"datum":38},"y":{"datum":0.157}}},
{"data":{"values":[{}]},"mark":{"type":"text","text":"Fe","font":"Liberation Serif","fontStyle":"italic","fontSize":14,"align":"left","baseline":"alphabetic","dx":20,"dy":5,"color":"black"},"encoding":{"x":{"datum":38},"y":{"datum":0.157}}},
{"data":{"values":[{}]},"mark":{"type":"text","text":"•","fontSize":9,"align":"left","baseline":"alphabetic","dx":23,"dy":-11,"color":"black"},"encoding":{"x":{"datum":38},"y":{"datum":0.157}}},
{"data":{"values":[{}]},"mark":{"type":"text","text":"V","font":"Liberation Serif","fontStyle":"italic","fontSize":20,"align":"left","baseline":"alphabetic","color":"black"},"encoding":{"x":{"datum":8.7e-9},"y":{"datum":0.0093}}},
{"data":{"values":[{}]},"mark":{"type":"text","text":"O","font":"Liberation Serif","fontStyle":"italic","fontSize":14,"align":"left","baseline":"alphabetic","dx":10,"dy":5,"color":"black"},"encoding":{"x":{"datum":8.7e-9},"y":{"datum":0.0093}}},
{"data":{"values":[{}]},"mark":{"type":"text","text":"••","fontSize":9,"align":"left","baseline":"alphabetic","dx":12,"dy":-16,"color":"black"},"encoding":{"x":{"datum":8.7e-9},"y":{"datum":0.0093}}}
]},
{"data":{"name":"pb"},"mark":{"type":"point","opacity":0},"encoding":{
"x":{"field":"p","type":"quantitative","scale":{"type":"log","domain":[1e-17,1e11],"nice":false},"axis":{"orient":"top","labels":false,"title":null,"domain":false,"grid":false,"values":[1e-17,1e-16,1e-15,1e-14,1e-13,1e-12,1e-11,1e-10,1e-9,1e-8,1e-7,1e-6,1e-5,1e-4,1e-3,1e-2,0.1,1,10,100,1000,1e4,1e5,1e6,1e7,1e8,1e9,1e10],"tickSize":{"condition":{"test":"datum.value==1e-17||datum.value==1e-13||datum.value==1e-9||datum.value==1e-5||datum.value==0.1||datum.value==1000||datum.value==1e7","value":-6},"value":-3}}},
"y":{"field":"c","type":"quantitative","scale":{"type":"log","domain":[0.003,1],"nice":false},"axis":{"orient":"right","labels":false,"title":null,"domain":false,"grid":false,"values":[0.003,0.004,0.005,0.006,0.007,0.008,0.009,0.01,0.02,0.03,0.04,0.05,0.06,0.07,0.08,0.09,0.1,0.2,0.3,0.4,0.5,0.6,0.7,0.8,0.9,1],"tickSize":{"condition":{"test":"datum.value==1||datum.value==0.1||datum.value==0.01","value":-5},"value":-3}}}}},
{"layer":[
{"data":{"values":[{}]},"mark":{"type":"rect","fill":"white","stroke":"black","strokeWidth":1},
"encoding":{"x":{"datum":3e-18,"type":"quantitative","scale":{"type":"log","domain":[3e-18,2e5],"range":[251,389],"nice":false},"axis":{"orient":"bottom","offset":-32,"title":null,"labelFontSize":12,"labelPadding":4,"tickSize":2,"labelFlush":false,"labelOverlap":false,"grid":false,"values":[1e-17,1e-12,1e-7,0.01,1000],"labelExpr":"datum.value==1e-17?'10⁻¹⁷':datum.value==1e-12?'10⁻¹²':datum.value==1e-7?'10⁻⁷':datum.value==0.01?'10⁻²':'10³'"}},
"x2":{"datum":2e5},
"y":{"datum":0,"type":"quantitative","scale":{"domain":[0,0.456],"range":[260,137],"nice":false,"zero":false},"axis":{"orient":"left","offset":-251,"title":null,"labelFontSize":12,"labelPadding":1,"tickSize":3,"grid":false,"values":[0,0.1,0.2,0.3,0.4],"format":".1f","labelFlush":false}},
"y2":{"datum":0.456}}},
{"data":{"name":"cb"},"transform":[{"filter":"datum.p <= 2e5"}],"mark":{"type":"line","strokeWidth":1,"interpolate":"monotone"},"encoding":{"x":{"field":"p","type":"quantitative"},"y":{"field":"c","type":"quantitative"},"color":{"field":"m","type":"nominal"},"strokeDash":{"field":"m","type":"nominal"},"detail":{"field":"sp","type":"nominal"}}},
{"data":{"name":"pb"},"mark":{"type":"rule","color":"#b8b8e0","strokeWidth":1},"encoding":{"x":{"field":"p","type":"quantitative"},"y":{"field":"lo","type":"quantitative"},"y2":{"field":"hi"}}},
{"data":{"name":"pb"},"mark":{"type":"point","filled":true,"opacity":1,"size":28},"encoding":{"x":{"field":"p","type":"quantitative"},"y":{"field":"c","type":"quantitative"},"color":{"field":"m","type":"nominal"}}}
]}
],
"resolve":{"scale":{"x":"independent","y":"independent"}}
},
{
"width":399,"height":292,
"title":{"text":"c","anchor":"start","frame":"group","fontSize":35,"fontWeight":"bold","baseline":"alphabetic","dx":-104,"offset":-46},
"layer":[
{"layer":[
{"data":{"name":"cc"},"mark":{"type":"line","clip":true,"strokeWidth":1.6,"interpolate":"monotone"},
"encoding":{
"x":{"field":"p","type":"quantitative","scale":{"type":"log","domain":[1e-17,1e11],"nice":false},"axis":{"orient":"bottom","title":"Equivalent oxygen pressure pO₂ [bar]","titleFontSize":21,"titleFontWeight":"normal","titlePadding":0,"labelFontSize":18,"labelPadding":5,"labelFlush":false,"labelOverlap":false,"grid":false,"values":[1e-17,1e-16,1e-15,1e-14,1e-13,1e-12,1e-11,1e-10,1e-9,1e-8,1e-7,1e-6,1e-5,1e-4,1e-3,1e-2,0.1,1,10,100,1000,1e4,1e5,1e6,1e7,1e8,1e9,1e10],"labelExpr":"datum.value==1e-17?'10⁻¹⁷':datum.value==1e-13?'10⁻¹³':datum.value==1e-9?'10⁻⁹':datum.value==1e-5?'10⁻⁵':datum.value==0.1?'10⁻¹':datum.value==1000?'10³':datum.value==1e7?'10⁷':''","tickSize":{"condition":{"test":"datum.value==1e-17||datum.value==1e-13||datum.value==1e-9||datum.value==1e-5||datum.value==0.1||datum.value==1000||datum.value==1e7","value":6},"value":3}}},
"y":{"field":"c","type":"quantitative","scale":{"type":"log","domain":[0.003,1],"nice":false},"axis":{"orient":"left","title":"Concentration of defects per unit cell","titleFontSize":21,"titleFontWeight":"normal","titlePadding":11,"titleY":158,"labelFontSize":18,"labelPadding":2,"labelFlush":false,"labelOverlap":false,"grid":false,"values":[0.003,0.004,0.005,0.006,0.007,0.008,0.009,0.01,0.02,0.03,0.04,0.05,0.06,0.07,0.08,0.09,0.1,0.2,0.3,0.4,0.5,0.6,0.7,0.8,0.9,1],"labelExpr":"datum.value==1?'10⁰':datum.value==0.1?'10⁻¹':datum.value==0.01?'10⁻²':''","tickSize":{"condition":{"test":"datum.value==1||datum.value==0.1||datum.value==0.01","value":5},"value":3}}},
"color":{"field":"m","type":"nominal","scale":{"domain":["P","D","L","Q"],"range":["#27d627","#2fc82f","#1f8f1f","#2f7f2f"]},"legend":{"title":null,"orient":"none","legendX":16,"legendY":9,"padding":0,"labelFontSize":14,"labelColor":"black","symbolSize":100,"symbolStrokeWidth":1.5,"rowPadding":3.5,"labelOffset":10,"labelLimit":400,"labelExpr":"datum.label=='P'?'LSF20 (La₀.₈₃Sr₀.₁₇FeO₃₋δ)':datum.label=='D'?'Dilute':datum.label=='L'?'Linear approx.':'Quadratic appr.'"}},
"strokeDash":{"field":"m","type":"nominal","scale":{"domain":["P","D","L","Q"],"range":[[1,0],[10,6],[2,2],[1,0]]},"legend":{"title":null,"orient":"none","legendX":16,"legendY":9,"padding":0,"labelFontSize":14,"labelColor":"black","symbolSize":100,"symbolStrokeWidth":1.5,"rowPadding":3.5,"labelOffset":10,"labelLimit":400,"labelExpr":"datum.label=='P'?'LSF20 (La₀.₈₃Sr₀.₁₇FeO₃₋δ)':datum.label=='D'?'Dilute':datum.label=='L'?'Linear approx.':'Quadratic appr.'"}},
"detail":{"field":"sp","type":"nominal"}}},
{"data":{"name":"pc"},"mark":{"type":"rule","clip":true,"color":"#a6e8a6","strokeWidth":1},"encoding":{"x":{"field":"p","type":"quantitative"},"y":{"field":"lo","type":"quantitative"},"y2":{"field":"hi"}}},
{"data":{"name":"pc"},"mark":{"type":"tick","orient":"horizontal","size":7,"thickness":1,"color":"#a6e8a6","clip":true},"encoding":{"x":{"field":"p","type":"quantitative"},"y":{"field":"lo","type":"quantitative"}}},
{"data":{"name":"pc"},"mark":{"type":"tick","orient":"horizontal","size":7,"thickness":1,"color":"#a6e8a6","clip":true},"encoding":{"x":{"field":"p","type":"quantitative"},"y":{"field":"hi","type":"quantitative"}}},
{"data":{"name":"pc"},"mark":{"type":"point","filled":true,"opacity":1,"size":100},"encoding":{"x":{"field":"p","type":"quantitative"},"y":{"field":"c","type":"quantitative"},"color":{"field":"m","type":"nominal"},"shape":{"field":"m","type":"nominal","scale":{"domain":["P","D","L","Q"],"range":["circle","M-2.8,0L2.8,0","M-2.8,0L2.8,0","M-2.8,0L2.8,0"]},"legend":{"title":null,"orient":"none","legendX":16,"legendY":9,"padding":0,"labelFontSize":14,"labelColor":"black","symbolSize":100,"symbolStrokeWidth":1.5,"rowPadding":3.5,"labelOffset":10,"labelLimit":400,"labelExpr":"datum.label=='P'?'LSF20 (La₀.₈₃Sr₀.₁₇FeO₃₋δ)':datum.label=='D'?'Dilute':datum.label=='L'?'Linear approx.':'Quadratic appr.'"}}}},
{"data":{"values":[{}]},"mark":{"type":"text","text":"Fe","font":"Liberation Serif","fontStyle":"italic","fontSize":20,"align":"left","baseline":"alphabetic","color":"black"},"encoding":{"x":{"datum":0.034},"y":{"datum":0.1}}},
{"data":{"values":[{}]},"mark":{"type":"text","text":"Fe","font":"Liberation Serif","fontStyle":"italic","fontSize":14,"align":"left","baseline":"alphabetic","dx":20,"dy":5,"color":"black"},"encoding":{"x":{"datum":0.034},"y":{"datum":0.1}}},
{"data":{"values":[{}]},"mark":{"type":"text","text":"•","fontSize":9,"align":"left","baseline":"alphabetic","dx":23,"dy":-11,"color":"black"},"encoding":{"x":{"datum":0.034},"y":{"datum":0.1}}},
{"data":{"values":[{}]},"mark":{"type":"text","text":"V","font":"Liberation Serif","fontStyle":"italic","fontSize":20,"align":"left","baseline":"alphabetic","color":"black"},"encoding":{"x":{"datum":5e-12},"y":{"datum":0.0061}}},
{"data":{"values":[{}]},"mark":{"type":"text","text":"O","font":"Liberation Serif","fontStyle":"italic","fontSize":14,"align":"left","baseline":"alphabetic","dx":10,"dy":5,"color":"black"},"encoding":{"x":{"datum":5e-12},"y":{"datum":0.0061}}},
{"data":{"values":[{}]},"mark":{"type":"text","text":"••","fontSize":9,"align":"left","baseline":"alphabetic","dx":12,"dy":-16,"color":"black"},"encoding":{"x":{"datum":5e-12},"y":{"datum":0.0061}}}
]},
{"data":{"name":"pc"},"mark":{"type":"point","opacity":0},"encoding":{
"x":{"field":"p","type":"quantitative","scale":{"type":"log","domain":[1e-17,1e11],"nice":false},"axis":{"orient":"top","labels":false,"title":null,"domain":false,"grid":false,"values":[1e-17,1e-16,1e-15,1e-14,1e-13,1e-12,1e-11,1e-10,1e-9,1e-8,1e-7,1e-6,1e-5,1e-4,1e-3,1e-2,0.1,1,10,100,1000,1e4,1e5,1e6,1e7,1e8,1e9,1e10],"tickSize":{"condition":{"test":"datum.value==1e-17||datum.value==1e-13||datum.value==1e-9||datum.value==1e-5||datum.value==0.1||datum.value==1000||datum.value==1e7","value":-6},"value":-3}}},
"y":{"field":"c","type":"quantitative","scale":{"type":"log","domain":[0.003,1],"nice":false},"axis":{"orient":"right","labels":false,"title":null,"domain":false,"grid":false,"values":[0.003,0.004,0.005,0.006,0.007,0.008,0.009,0.01,0.02,0.03,0.04,0.05,0.06,0.07,0.08,0.09,0.1,0.2,0.3,0.4,0.5,0.6,0.7,0.8,0.9,1],"tickSize":{"condition":{"test":"datum.value==1||datum.value==0.1||datum.value==0.01","value":-5},"value":-3}}}}},
{"layer":[
{"data":{"values":[{}]},"mark":{"type":"rect","fill":"white","stroke":"black","strokeWidth":1},
"encoding":{"x":{"datum":1e-21,"type":"quantitative","scale":{"type":"log","domain":[1e-21,1e11],"range":[256,394],"nice":false},"axis":{"orient":"bottom","offset":-25,"title":null,"labelFontSize":10,"labelPadding":4,"tickSize":2,"labelFlush":false,"labelOverlap":false,"grid":false,"values":[1e-21,1e-16,1e-11,1e-6,0.1,1e4,1e9],"labelExpr":"datum.value==1e-21?'10⁻²¹':datum.value==1e-16?'10⁻¹⁶':datum.value==1e-11?'10⁻¹¹':datum.value==1e-6?'10⁻⁶':datum.value==0.1?'10⁻¹':datum.value==1e4?'10⁴':'10⁹'"}},
"x2":{"datum":1e11},
"y":{"datum":0,"type":"quantitative","scale":{"domain":[0,0.253],"range":[267,143],"nice":false,"zero":false},"axis":{"orient":"left","offset":-256,"title":null,"labelFontSize":12,"labelPadding":1,"tickSize":3,"grid":false,"values":[0,0.1,0.2],"format":".1f","labelFlush":false}},
"y2":{"datum":0.253}}},
{"data":{"name":"cc"},"mark":{"type":"line","strokeWidth":1,"interpolate":"monotone"},"encoding":{"x":{"field":"p","type":"quantitative"},"y":{"field":"c","type":"quantitative"},"color":{"field":"m","type":"nominal"},"strokeDash":{"field":"m","type":"nominal"},"detail":{"field":"sp","type":"nominal"}}},
{"data":{"name":"pc"},"mark":{"type":"rule","color":"#b8ecb8","strokeWidth":1},"encoding":{"x":{"field":"p","type":"quantitative"},"y":{"field":"lo","type":"quantitative"},"y2":{"field":"hi"}}},
{"data":{"name":"pc"},"mark":{"type":"point","filled":true,"opacity":1,"size":28},"encoding":{"x":{"field":"p","type":"quantitative"},"y":{"field":"c","type":"quantitative"},"color":{"field":"m","type":"nominal"}}}
]}
],
"resolve":{"scale":{"x":"independent","y":"independent"}}
}
],
"spacing":52,
"resolve":{"scale":{"color":"independent","strokeDash":"independent","shape":"independent","x":"independent","y":"independent"},"legend":{"color":"independent","strokeDash":"independent","shape":"independent"}}
}
